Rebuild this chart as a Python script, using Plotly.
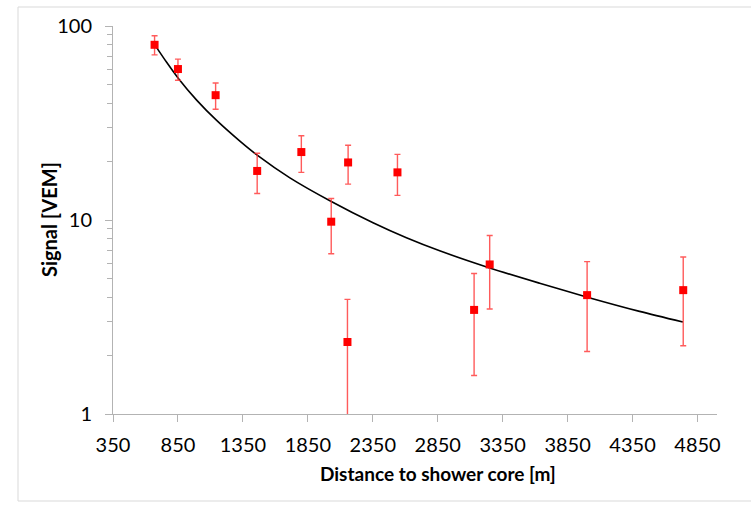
import plotly.graph_objects as go

# Data
distance_m = [670, 850, 1140, 1460, 1800, 2030, 2160, 2155, 2540, 3130, 3250, 4000, 4740]
signal_vem = [80, 60, 44, 17.9, 22.4, 9.8, 19.8, 2.35, 17.6, 3.44, 5.9, 4.1, 4.35]
signal_err = [9, 7.5, 6.8, 4.2, 4.8, 3.1, 4.5, 1.55, 4.2, 1.86, 2.42, 2.0, 2.1]

fit_distance_m = [668, 763, 855, 994, 1148, 1327, 1460, 1712, 2027, 2352, 2609, 2865, 3250, 3635, 4002, 4404, 4737]
fit_signal_vem = [80.7, 65.0, 53.5, 41.5, 32.6, 25.5, 21.6, 16.5, 12.5, 9.68, 8.1, 6.94, 5.66, 4.72, 4.0, 3.38, 2.98]

x_tick_vals = [350, 850, 1350, 1850, 2350, 2850, 3350, 3850, 4350, 4850]
y_tick_vals = [1, 10, 100]

W, H = 751, 505
L, R, T, B = 113, 717, 26, 414
pw, ph = R - L, B - T

def px(xp):
    return (xp - L) / pw

def py(yp):
    return (B - yp) / ph

axis_grey = "#b3b3b3"
font_fam = "Lato, Open Sans, sans-serif"

fig = go.Figure()
fig.add_trace(go.Scatter(
    x=fit_distance_m, y=fit_signal_vem, mode="lines",
    line=dict(color="black", width=1.6, shape="spline", smoothing=0.8),
    showlegend=False, hoverinfo="skip"))
fig.add_trace(go.Scatter(
    x=distance_m, y=signal_vem, mode="markers",
    marker=dict(symbol="square", size=8, color="#ff0000"),
    error_y=dict(type="data", array=signal_err, visible=True,
                 color="rgba(255,50,50,0.8)", thickness=1.4, width=3),
    showlegend=False))

fig.update_layout(
    width=W, height=H,
    margin=dict(l=L, r=W - R, t=T, b=H - B),
    paper_bgcolor="white", plot_bgcolor="white",
    font=dict(family=font_fam, size=20, color="black"),
    xaxis=dict(range=[350, 5000], tickvals=x_tick_vals,
               ticktext=[str(v) for v in x_tick_vals],
               showgrid=False, zeroline=False, showline=True,
               linecolor=axis_grey, linewidth=1,
               ticks="outside", ticklen=7, tickcolor=axis_grey,
               ticklabelstandoff=6),
    yaxis=dict(type="log", range=[0, 2], tickvals=y_tick_vals,
               ticktext=[str(v) for v in y_tick_vals],
               showgrid=False, zeroline=False, showline=True,
               linecolor=axis_grey, linewidth=1,
               ticks="outside", ticklen=7, tickcolor=axis_grey,
               ticklabelstandoff=9,
               minor=dict(ticks="outside", ticklen=5, tickcolor=axis_grey,
                          dtick="D1", showgrid=False)),
    annotations=[
        dict(text="<b>Distance to shower core [m]</b>", xref="paper", yref="paper",
             x=px(437.5), y=py(474), xanchor="center", yanchor="middle",
             showarrow=False, font=dict(size=19, family=font_fam)),
        dict(text="<b>Signal [VEM]</b>", xref="paper", yref="paper",
             x=px(49), y=py(220), xanchor="center", yanchor="middle",
             textangle=-90, showarrow=False, font=dict(size=20, family=font_fam)),
    ],
    shapes=[dict(type="rect", xref="paper", yref="paper",
                 x0=px(18), x1=px(770), y0=py(501), y1=py(7),
                 line=dict(color="#d9d9d9", width=1), layer="below")],
)

fig.write_html("out.html")
